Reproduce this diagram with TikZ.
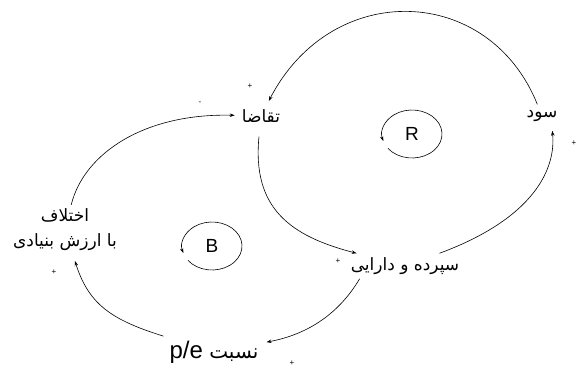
\documentclass[tikz,border=0pt]{standalone}
\usepackage{fontspec}
\setmainfont{Liberation Sans}
\newfontfamily\farsi[Script=Arabic]{DejaVu Sans}
\newfontfamily\latin{Liberation Sans}
\TeXXeTstate=1
\usetikzlibrary{arrows.meta}

\begin{document}
\begin{tikzpicture}[x=1pt, y=1pt,
    var/.style={font=\farsi\fontsize{17}{25}\selectfont, inner sep=4pt, align=center},
    sign/.style={font=\latin\fontsize{8}{9}\selectfont, inner sep=0pt},
    link/.style={-{Stealth[length=5pt, width=3.5pt]}, line width=0.6pt},
    loopsym/.style={font=\latin\fontsize{19}{22}\selectfont, inner sep=0pt}]
  \useasboundingbox (0,0) rectangle (578,368);

  % variables
  \node[var] (demand)  at (261,252) {\beginR تقاضا\endR};
  \node[var] (profit)  at (542,252) {\beginR سود\endR};
  \node[var] (deposit) at (405,102) {\beginR سپرده و دارایی\endR};
  \node[var, font=\farsi\fontsize{20}{25}\selectfont] (pe) at (214,16)
    {\beginR نسبت \beginL{\latin\fontsize{24}{26}\selectfont p/e}\endL\endR};
  \node[var] (gap)     at (65,138)  {\beginR اختلاف\endR\\\beginR با ارزش بنیادی\endR};

  % loop symbols
  \node[loopsym] (R) at (412,234) {R};
  \draw[link] (R) ++(217:30 and 24) arc[start angle=217, end angle=557, x radius=30, y radius=24];
  \node[loopsym] (B) at (212,122) {B};
  \draw[link] (B) ++(217:30 and 24) arc[start angle=217, end angle=557, x radius=30, y radius=24];

  % links
  \draw[link, shorten <=2pt, shorten >=5pt] (profit) .. controls (489,384) and (332,389) .. (demand);
  \draw[link, shorten >=3pt] (gap) .. controls (84,215) and (145,255) .. (demand);
  \draw[link, shorten <=10pt] (demand) .. controls (252,160) and (290,132) .. ([xshift=10pt]deposit.north west);
  \draw[link, shorten >=5pt] (deposit) .. controls (535,150) and (556,200) .. (profit.-45);
  \draw[link, shorten >=4pt] ([xshift=13pt]deposit.south west) .. controls (343,61) and (315,35) .. (pe);
  \draw[link, shorten <=2pt, shorten >=6pt] (pe) .. controls (112,48) and (89,63) .. (gap);

  % polarities
  \node[sign] (s1) at (250,282) {+};
  \node[sign] (s2) at (200,265) {-};
  \node[sign] (s3) at (574,225) {+};
  \node[sign] (s4) at (338,107) {+};
  \node[sign] (s5) at (292,5)   {+};
  \node[sign] (s6) at (54,96)   {+};
\end{tikzpicture}
\end{document}
